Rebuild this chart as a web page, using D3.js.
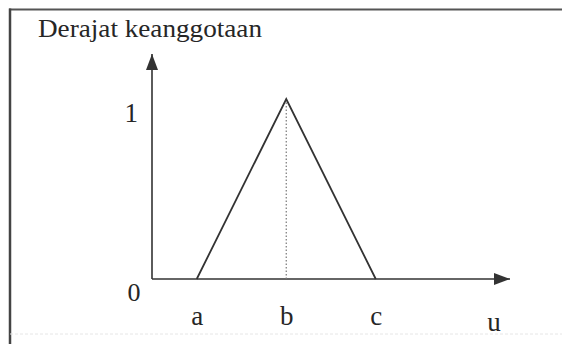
<!DOCTYPE html>
<html>
<head>
<meta charset="utf-8">
<script src="https://cdn.jsdelivr.net/npm/d3@7/dist/d3.min.js"></script>
<style>
  html, body { margin: 0; padding: 0; background: #fff; }
  svg { display: block; }
  text { font-family: "Liberation Serif", "Times New Roman", serif; fill: #262626; }
</style>
</head>
<body>
<svg id="chart" width="562" height="344"></svg>
<script>
// Triangular membership function: mu(a)=0, mu(b)=1, mu(c)=0
const pointLabels = ["a", "b", "c"];
const pointValues = [0.5, 1.5, 2.5];
const membership = [0, 1, 0];

// Degree-of-membership tick labels
const yTickValues = [1];
const yTickLabels = ["1"];
const originLabel = "0";

const yTitle = "Derajat keanggotaan";
const xTitle = "u";

const W = 562, H = 344;
const svg = d3.select("#chart");

// Scales: universe of discourse u and membership degree
const x = d3.scaleLinear().domain([0, 4]).range([152, 510]);
const y = d3.scaleLinear().domain([0, 1.25]).range([279, 54]);

const ink = "#333";
const labelSize = 27;

// Outer frame (top and left edges, faint bottom edge)
svg.append("line").attr("x1", 9).attr("x2", W).attr("y1", 9.5).attr("y2", 9.5)
  .attr("stroke", "#555").attr("stroke-width", 2);
svg.append("line").attr("x1", 10).attr("x2", 10).attr("y1", 8.5).attr("y2", H)
  .attr("stroke", "#444").attr("stroke-width", 2.5);
svg.append("line").attr("x1", 10).attr("x2", W).attr("y1", 334).attr("y2", 334)
  .attr("stroke", "#e6e6e6").attr("stroke-width", 1).attr("stroke-dasharray", "3,2");

// Arrowhead marker for both axes
const defs = svg.append("defs");
defs.append("marker")
  .attr("id", "arrow")
  .attr("viewBox", "0 0 16 12")
  .attr("refX", 16).attr("refY", 6)
  .attr("markerWidth", 16).attr("markerHeight", 12)
  .attr("markerUnits", "userSpaceOnUse")
  .attr("orient", "auto")
  .append("path").attr("d", "M0,0 L16,6 L0,12 Z").attr("fill", ink);

// Axis lines drawn from the scale domains
svg.append("line")
  .attr("x1", x(0)).attr("y1", y(0))
  .attr("x2", x(x.domain()[1])).attr("y2", y(0))
  .attr("stroke", ink).attr("stroke-width", 1.6)
  .attr("marker-end", "url(#arrow)");
svg.append("line")
  .attr("x1", x(0)).attr("y1", y(0))
  .attr("x2", x(0)).attr("y2", y(y.domain()[1]))
  .attr("stroke", ink).attr("stroke-width", 1.6)
  .attr("marker-end", "url(#arrow)");

// Tick labels via d3 axes (no tick marks, no domain path)
const xAxis = svg.append("g")
  .attr("transform", `translate(0,${y(0)})`)
  .call(d3.axisBottom(x)
    .tickValues(pointValues)
    .tickFormat((d, i) => pointLabels[i])
    .tickSize(0)
    .tickPadding(27));
xAxis.select(".domain").remove();
xAxis.selectAll("text")
  .attr("font-size", labelSize)
  .attr("font-family", "Liberation Serif, serif")
  .attr("fill", "#262626");

const yAxis = svg.append("g")
  .attr("transform", `translate(${x(0)},0)`)
  .call(d3.axisLeft(y)
    .tickValues(yTickValues)
    .tickFormat((d, i) => yTickLabels[i])
    .tickSize(0)
    .tickPadding(14));
yAxis.select(".domain").remove();
yAxis.selectAll("text")
  .attr("font-size", labelSize)
  .attr("font-family", "Liberation Serif, serif")
  .attr("fill", "#262626")
  .attr("dy", "0.85em");

// Origin label
svg.append("text")
  .attr("x", x(0) - 18).attr("y", y(0) + 22)
  .attr("text-anchor", "middle")
  .attr("font-size", 26)
  .text(originLabel);

// Axis titles
svg.append("text")
  .attr("x", 38).attr("y", 37)
  .attr("font-size", 26)
  .attr("textLength", 224)
  .attr("lengthAdjust", "spacingAndGlyphs")
  .text(yTitle);
svg.append("text")
  .attr("x", x(3.82)).attr("y", 331)
  .attr("text-anchor", "middle")
  .attr("font-size", labelSize)
  .text(xTitle);

// Dotted guide from the peak down to the u axis
const peakIdx = membership.indexOf(d3.max(membership));
svg.append("line")
  .attr("x1", x(pointValues[peakIdx])).attr("x2", x(pointValues[peakIdx]))
  .attr("y1", y(membership[peakIdx])).attr("y2", y(0))
  .attr("stroke", "#777").attr("stroke-width", 1.2)
  .attr("stroke-dasharray", "1.5,2");

// Membership function
const line = d3.line().x((d, i) => x(pointValues[i])).y(d => y(d));
svg.append("path")
  .datum(membership)
  .attr("d", line)
  .attr("fill", "none")
  .attr("stroke", ink)
  .attr("stroke-width", 1.8)
  .attr("stroke-linejoin", "miter");
</script>
</body>
</html>
